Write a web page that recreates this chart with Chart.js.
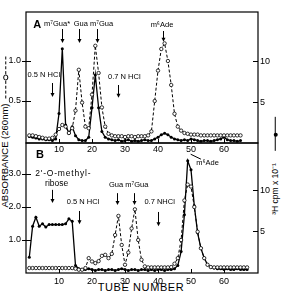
<!DOCTYPE html>
<html><head><meta charset="utf-8">
<script src="https://cdn.jsdelivr.net/npm/chart.js@4/dist/chart.umd.min.js"></script>
<style>
html,body{margin:0;padding:0;background:#fff;}
body{width:282px;height:295px;overflow:hidden;position:relative;font-family:"Liberation Sans",Arial,Helvetica,sans-serif;color:#000;}
.cv{position:absolute;left:0;top:0;width:282px;height:295px;z-index:2;background:transparent;}
.vt{position:absolute;z-index:1;white-space:nowrap;transform:translate(-50%,-50%) rotate(-90deg);line-height:1;background:transparent;}
.mk{display:inline-block;position:relative;vertical-align:middle;height:0;}
.mk i{position:absolute;border-radius:50%;}
#xt{position:absolute;left:0;width:282px;top:282px;text-align:center;font-size:11px;letter-spacing:0.6px;line-height:1;}
</style></head><body>
<div class="vt" style="left:4.5px;top:132px;font-size:9.5px;">ABSORBANCE (260nm)<span class="mk" style="width:42px;margin-left:5px;border-top:1px dashed #000;"><i style="left:18px;top:-3px;width:3.5px;height:3.5px;border:1px solid #000;background:#fff;"></i></span></div>
<div class="vt" style="left:275px;top:166px;font-size:8.5px;">³H cpm x 10⁻¹<span class="mk" style="width:34px;margin-left:12px;border-top:1.2px solid #000;"><i style="left:14px;top:-2.6px;width:4px;height:4px;background:#000;"></i></span></div>
<div id="xt">TUBE NUMBER</div>
<div class="cv"><canvas id="cB" width="282" height="295"></canvas></div>
<div class="cv"><canvas id="cA" width="282" height="295"></canvas></div>
<script>
// ---------- data ----------
const TUBES_A = [1,2,3,4,5,6,7,8,9,10,11,12,13,14,15,16,17,18,19,20,21,22,23,24,25,26,27,28,29,30,31,32,33,34,35,36,37,38,39,40,41,42,43,44,45,46,47,48,49,50,51,52,53,54,55,56,57,58,59,60,61,62,63,64,65];
const ABS_A = [0.07,0.07,0.06,0.05,0.04,0.03,0.03,0.04,0.08,0.15,
               0.20,0.18,0.10,0.16,0.38,0.89,0.48,0.18,0.16,0.58,
               1.19,0.85,0.42,0.18,0.09,0.07,0.06,0.06,0.06,0.05,
               0.06,0.06,0.05,0.06,0.06,0.06,0.07,0.12,0.50,0.88,
               1.15,1.22,1.00,0.70,0.34,0.18,0.13,0.10,0.09,0.08,
               0.08,0.08,0.07,0.07,0.07,0.07,0.07,0.07,0.07,0.07,
               0.07,0.07,0.07,0.07,0.07];
const CPM_A = [0.8,0.7,0.6,0.5,0.5,0.4,0.4,0.3,0.5,3.6,
               11.5,2.2,1.2,2.0,0.9,0.4,0.3,0.3,0.7,4.3,
               8.3,4.3,1.4,0.7,0.5,0.4,0.3,0.4,0.2,0.3,
               0.4,0.2,0.3,0.2,0.3,0.4,0.3,0.3,0.5,0.7,
               1.0,1.2,1.0,0.7,0.5,0.4,0.3,0.4,0.3,0.5,
               0.4,0.3,0.2,0.3,0.3,0.2,0.3,0.4,0.5,0.7,
               0.4,0.3,0.3,0.2,0.3];
const TUBES_B = [1,2,3,4,5,6,7,8,9,10,11,12,13,14,15,16,17,18,19,20,21,22,23,24,25,26,27,28,29,30,31,32,33,34,35,36,37,38,39,40,41,42,43,44,45,46,47,48,49,50,51,52,53,54,55,56,57,58,59,60,61,62,63,64,65,66,67];
const ABS_B = [0.15,0.15,0.15,0.15,0.15,0.15,0.15,0.15,0.15,0.15,
               0.15,0.15,0.15,0.15,0.13,0.10,0.10,0.15,0.45,0.35,
               0.30,0.36,0.52,0.55,0.45,0.58,1.15,1.73,0.85,0.25,
               0.62,1.35,1.93,1.00,0.40,0.20,0.17,0.17,0.17,0.17,
               0.17,0.17,0.17,0.18,0.28,0.45,1.00,2.20,2.68,2.62,
               2.00,1.25,0.75,0.45,0.25,0.18,0.17,0.17,0.17,0.17,
               0.17,0.17,0.17,0.17,0.17,0.17,0.17];
const CPM_B = [1.8,5.6,6.7,5.6,5.9,5.5,5.8,5.8,5.8,5.8,
               5.8,5.9,6.5,6.2,0.8,0.4,0.3,0.3,0.4,0.3,
               0.2,0.3,0.3,0.2,0.3,0.3,0.2,0.3,0.4,0.3,
               0.2,0.3,0.3,0.2,0.3,0.3,0.2,0.3,0.2,0.3,
               0.3,0.2,0.3,0.3,0.4,0.8,2.5,7.0,13.6,12.5,
               8.1,4.8,2.9,1.7,0.9,0.6,0.5,0.4,0.4,0.3,
               0.4,0.3,0.3,0.4,0.3,0.3,0.3];
const X_TICKS = [10,20,30,40,50,60];
const ABS_TICKS_A = [0.5,1.0];
const CPM_TICKS_A = [5,10];
const ABS_TICKS_B = [1.0,2.0,3.0];
const CPM_TICKS_B = [5,10];

// ---------- annotations (x in tube units, y in absorbance units) ----------
const ANN_A = {
  texts:[
    {t:'A', x:3.4, y:1.45, f:'bold 11px'},
    {t:'m⁷Gua*', x:9.4, y:1.46, f:'7.5px'},
    {t:'Gua', x:16.6, y:1.46, f:'7.5px'},
    {t:'m⁷Gua', x:22.9, y:1.46, f:'7.5px'},
    {t:'0.5 N HCl', x:5.4, y:0.82, f:'7.5px'},
    {t:'0.7 N HCl', x:29.8, y:0.80, f:'7.5px'},
    {t:'m⁶Ade', x:41.2, y:1.45, f:'7.5px'}
  ],
  arrows:[
    {x:10.9, y1:1.40, y2:1.225},
    {x:16.0, y1:1.40, y2:1.225},
    {x:21.4, y1:1.40, y2:1.225},
    {x:8.0, y1:0.725, y2:0.55},
    {x:28.0, y1:0.70, y2:0.54},
    {x:41.6, y1:1.375, y2:1.24}
  ],
  lines:[]
};
const ANN_B = {
  texts:[
    {t:'B', x:4.2, y:3.58, f:'bold 11px'},
    {t:"2'-O-methyl-", x:11.3, y:3.0, f:'8.5px', ls:'0.8px'},
    {t:'ribose', x:9.3, y:2.70, f:'8.5px'},
    {t:'0.5 N HCl', x:17.3, y:2.15, f:'7.5px'},
    {t:'Gua', x:27.3, y:2.67, f:'7.5px'},
    {t:'m⁷Gua', x:33.6, y:2.67, f:'7.5px'},
    {t:'0.7 NHCl', x:40.5, y:2.15, f:'7.5px'},
    {t:'m⁶Ade', x:55.0, y:3.33, f:'7.5px'}
  ],
  arrows:[
    {x:8.0, y1:2.52, y2:2.12},
    {x:16.0, y1:1.88, y2:1.48},
    {x:27.6, y1:2.42, y2:2.06},
    {x:32.7, y1:2.42, y2:2.06},
    {x:40.1, y1:1.85, y2:1.42}
  ],
  lines:[{x1:49.9, y1:3.6, x2:53.0, y2:3.45}]
};

const FONT = '"Liberation Sans", Arial, Helvetica, sans-serif';

function pts(t, v){ return t.map((x,i)=>({x:x, y:v[i]})); }

function deco(ann, yTicks){
  return {
    id:'deco',
    afterDatasetsDraw(chart){
      const ctx = chart.ctx, a = chart.chartArea;
      const x = chart.scales.x, y = chart.scales.y, y2 = chart.scales.y2;
      ctx.save();
      ctx.strokeStyle = '#000'; ctx.fillStyle = '#000';
      ctx.lineWidth = 1.2;
      ctx.strokeRect(a.left, a.top, a.right - a.left, a.bottom - a.top);
      ctx.lineWidth = 1;
      ctx.beginPath();
      yTicks.forEach(v=>{ const p = Math.round(y.getPixelForValue(v)) + 0.5; ctx.moveTo(a.left - 4, p); ctx.lineTo(a.left + 5, p); });
      y2.ticks.forEach(t=>{ const p = Math.round(y2.getPixelForValue(t.value)) + 0.5; ctx.moveTo(a.right - 5, p); ctx.lineTo(a.right, p); });
      x.ticks.forEach(t=>{ const p = Math.round(x.getPixelForValue(t.value)) + 0.5; ctx.moveTo(p, a.bottom); ctx.lineTo(p, a.bottom - 4); });
      ctx.stroke();
      // left tick labels
      ctx.font = '9px ' + FONT;
      ctx.textAlign = 'right'; ctx.textBaseline = 'middle';
      yTicks.forEach(v=>{ ctx.fillText(v.toFixed(1), a.left - 5, y.getPixelForValue(v)); });
      ctx.textAlign = 'center';
      ann.texts.forEach(d=>{
        ctx.font = (d.f || '8px') + ' ' + FONT;
        ctx.letterSpacing = d.ls || '0px';
        ctx.fillText(d.t, x.getPixelForValue(d.x), y.getPixelForValue(d.y));
      });
      ctx.letterSpacing = '0px';
      ann.arrows.forEach(d=>{
        const px = Math.round(x.getPixelForValue(d.x)) + 0.5;
        const p1 = y.getPixelForValue(d.y1), p2 = y.getPixelForValue(d.y2);
        ctx.beginPath(); ctx.moveTo(px, p1); ctx.lineTo(px, p2 - 3); ctx.stroke();
        ctx.beginPath(); ctx.moveTo(px - 2, p2 - 4); ctx.lineTo(px + 2, p2 - 4); ctx.lineTo(px, p2); ctx.closePath(); ctx.fill();
      });
      ann.lines.forEach(d=>{
        ctx.beginPath();
        ctx.moveTo(x.getPixelForValue(d.x1), y.getPixelForValue(d.y1));
        ctx.lineTo(x.getPixelForValue(d.x2), y.getPixelForValue(d.y2));
        ctx.stroke();
      });
      ctx.restore();
    }
  };
}

function makeChart(id, o){
  const tickFont = {family:FONT, size:9};
  return new Chart(document.getElementById(id), {
    type:'line',
    data:{datasets:[
      {data:pts(o.tubes, o.abs), yAxisID:'y', borderColor:'#000', borderWidth:1, borderDash:[3,2],
       pointRadius:1.7, pointBackgroundColor:'#fff', pointBorderColor:'#000', pointBorderWidth:0.8, tension:0},
      {data:pts(o.tubes, o.cpm), yAxisID:'y2', borderColor:'#000', borderWidth:1.3,
       pointRadius:1.5, pointBackgroundColor:'#000', pointBorderColor:'#000', pointBorderWidth:0, tension:0}
    ]},
    options:{
      responsive:false, animation:false, events:[],
      layout:{padding:{top:o.top, left:0, right:0, bottom:0}, autoPadding:false},
      plugins:{legend:{display:false}, tooltip:{enabled:false}},
      scales:{
        x:{type:'linear', min:0, max:70.3,
           afterBuildTicks:s=>{ s.ticks = X_TICKS.map(v=>({value:v})); },
           afterFit:s=>{ s.height = 295 - o.bottom; },
           grid:{display:false, drawTicks:false}, border:{display:false},
           ticks:{font:tickFont, color:'#000', padding:o.xpad, maxRotation:0, autoSkip:false, callback:v=>String(v)}},
        y:{type:'linear', position:'left', min:o.yMin, max:o.yMax,
           afterFit:s=>{ s.width = 26; },
           grid:{display:false, drawTicks:false}, border:{display:false},
           ticks:{display:false}},
        y2:{type:'linear', position:'right', min:o.y2Min, max:o.y2Max,
           afterBuildTicks:s=>{ s.ticks = o.y2Ticks.map(v=>({value:v})); },
           afterFit:s=>{ s.width = 24; },
           grid:{display:false, drawTicks:false}, border:{display:false},
           ticks:{font:tickFont, color:'#000', padding:2, autoSkip:false, callback:v=>String(v)}}
      }
    },
    plugins:[deco(o.ann, o.yTicks)]
  });
}

makeChart('cB', {tubes:TUBES_B, abs:ABS_B, cpm:CPM_B, top:143, bottom:273, xpad:3,
  yMin:0, yMax:3.94, yTicks:ABS_TICKS_B, y2Min:-0.12, y2Max:15.78, y2Ticks:CPM_TICKS_B, ann:ANN_B});
makeChart('cA', {tubes:TUBES_A, abs:ABS_A, cpm:CPM_A, top:12, bottom:143, xpad:1,
  yMin:-0.025, yMax:1.6125, yTicks:ABS_TICKS_A, y2Min:0, y2Max:16.0, y2Ticks:CPM_TICKS_A, ann:ANN_A});
</script>
</body></html>
